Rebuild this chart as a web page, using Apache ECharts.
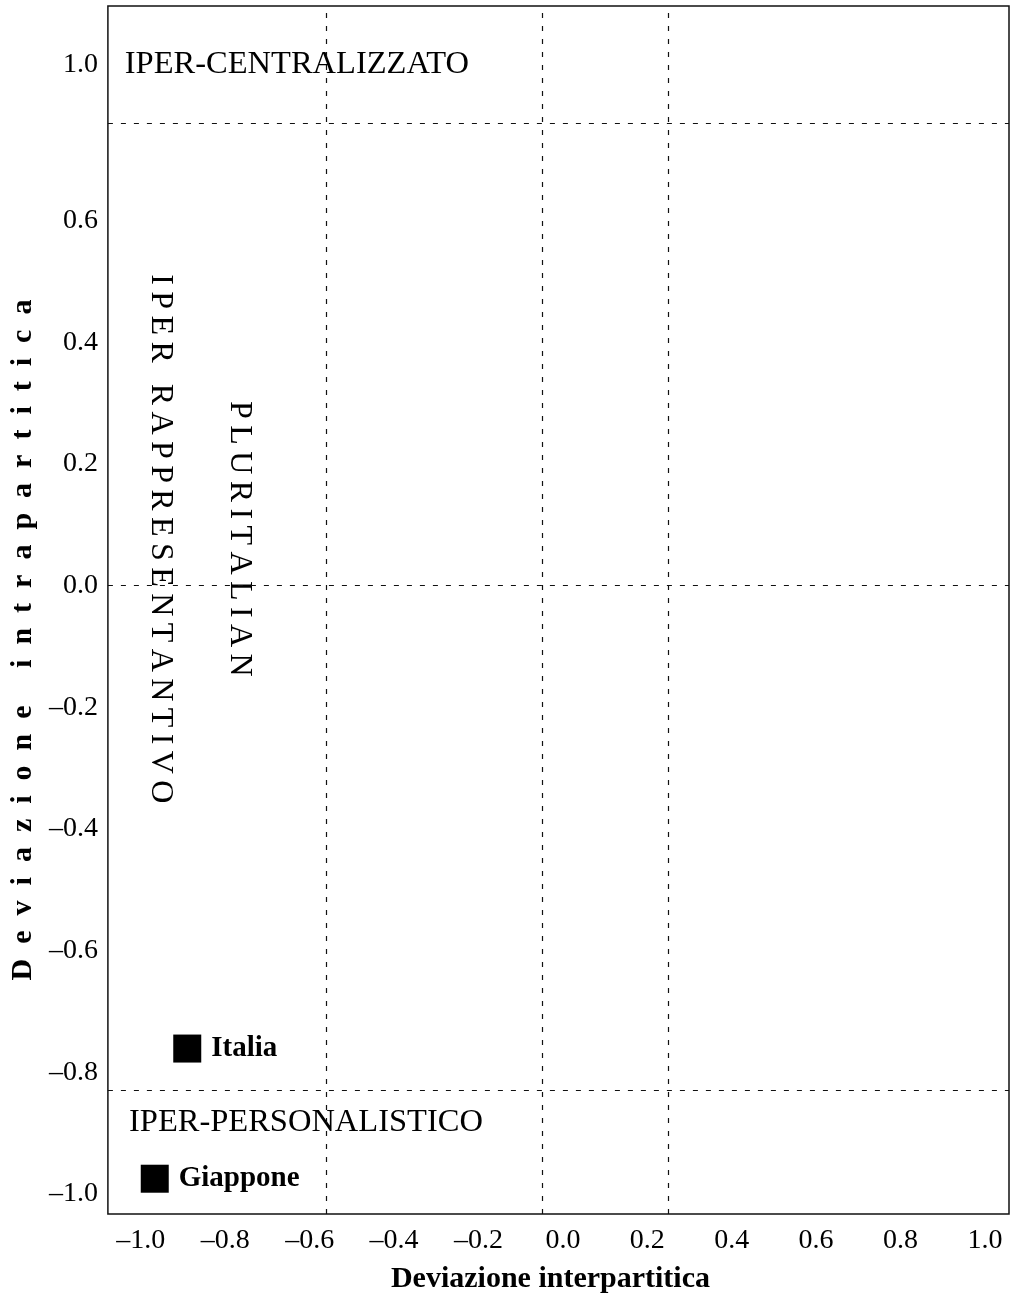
<!DOCTYPE html>
<html><head><meta charset="utf-8">
<script src="https://cdn.jsdelivr.net/npm/echarts@6/dist/echarts.min.js"></script>
<style>html,body{margin:0;padding:0;background:#fff}#c{width:1012px;height:1299px}</style>
</head><body><div id="c"></div>
<script>
// ---- data ----
const xTickValues = [-1.0, -0.8, -0.6, -0.4, -0.2, 0.0, 0.2, 0.4, 0.6, 0.8, 1.0];
const yTickLabels = ['1.0', '0.6', '0.4', '0.2', '0.0', '–0.2', '–0.4', '–0.6', '–0.8', '–1.0'];
const yTickValues = [0.857, 0.6, 0.4, 0.2, 0.0, -0.2, -0.4, -0.6, -0.8, -1.0];
const countries = ['Italia', 'Giappone'];
const interparty = [-0.89, -0.967];
const intraparty = [-0.761, -0.975];
const verticalDividers = [-0.564, -0.052, 0.254];
const horizontalDividers = [0.761, 0.0, -0.829];
const regionNames = ['IPER-CENTRALIZZATO', 'IPER-PERSONALISTICO', 'IPER RAPPRESENTANTIVO', 'PLURITALIAN'];
const regionX = [-1.038, -1.028, -0.953, -0.766];
const regionY = [0.857, -0.883, 0.077, 0.077];
const xTitle = 'Deviazione interpartitica';
const yTitle = 'Deviazione intrapartitica';

// ---- helpers ----
const FONT = '"Liberation Serif", "Times New Roman", serif';
const INK = '#000';
const spaced = (s, sp) => Array.from(s).join(sp);
const fmtX = v => (v < -1e-9 ? '–' : '') + Math.abs(v).toFixed(1);
const fmtY = v => {
  const i = yTickValues.findIndex(t => Math.abs(t - v) < 1e-6);
  return i >= 0 ? yTickLabels[i] : '';
};

const chart = echarts.init(document.getElementById('c'));
const dash = { color: '#111', width: 1.2, type: [5, 8], opacity: 1 };

const regionData = regionNames.map((n, i) => {
  const vertical = i >= 2;
  return {
    name: n,
    value: [regionX[i], regionY[i]],
    label: vertical ? {
      show: true, position: 'inside', rotate: -90,
      formatter: spaced(n, '\u2009'),
      fontFamily: FONT, fontSize: 32, color: INK, opacity: 1
    } : {
      show: true, position: 'right', distance: 0,
      formatter: n, fontFamily: FONT, fontSize: 32.5, color: INK, opacity: 1
    }
  };
});

chart.setOption({
  animation: false,
  backgroundColor: '#fff',
  grid: { left: 107, right: 3, top: 6, bottom: 84, show: true, borderColor: '#111', borderWidth: 1.5, backgroundColor: 'transparent' },
  xAxis: {
    type: 'value', min: -1.078, max: 1.057,
    axisLine: { show: false }, axisTick: { show: false }, splitLine: { show: false },
    axisLabel: { customValues: xTickValues, formatter: fmtX, margin: 13, fontFamily: FONT, fontSize: 28, color: INK },
    name: xTitle, nameLocation: 'middle', nameGap: 50,
    nameTextStyle: { fontFamily: FONT, fontSize: 30, fontWeight: 'bold', color: INK, padding: [0, 16, 0, 0] }
  },
  yAxis: {
    type: 'value', min: -1.033, max: 0.953,
    axisLine: { show: false }, axisTick: { show: false }, splitLine: { show: false },
    axisLabel: { customValues: yTickValues, formatter: fmtY, margin: 10, fontFamily: FONT, fontSize: 28, color: INK },
    name: spaced(yTitle, '\u2002'), nameLocation: 'middle', nameGap: 67,
    nameTextStyle: { fontFamily: FONT, fontSize: 30, fontWeight: 'bold', color: INK, padding: [0, 60, 0, 0] }
  },
  series: [
    {
      type: 'scatter', name: 'dividers', data: [], silent: true,
      markLine: {
        silent: true, symbol: 'none', label: { show: false }, lineStyle: dash,
        emphasis: { disabled: true },
        data: verticalDividers.map(v => ({ xAxis: v })).concat(horizontalDividers.map(v => ({ yAxis: v })))
      }
    },
    {
      type: 'scatter', name: 'regions', symbolSize: 0, silent: true,
      itemStyle: { opacity: 1 },
      data: regionData
    },
    {
      type: 'scatter', name: 'paesi', symbol: 'rect', symbolSize: 28,
      itemStyle: { color: '#000', opacity: 1 },
      label: { show: true, position: 'right', distance: 10, formatter: '{b}', fontFamily: FONT, fontSize: 29, fontWeight: 'bold', color: INK },
      data: countries.map((n, i) => ({ name: n, value: [interparty[i], intraparty[i]] }))
    }
  ]
});
</script></body></html>
